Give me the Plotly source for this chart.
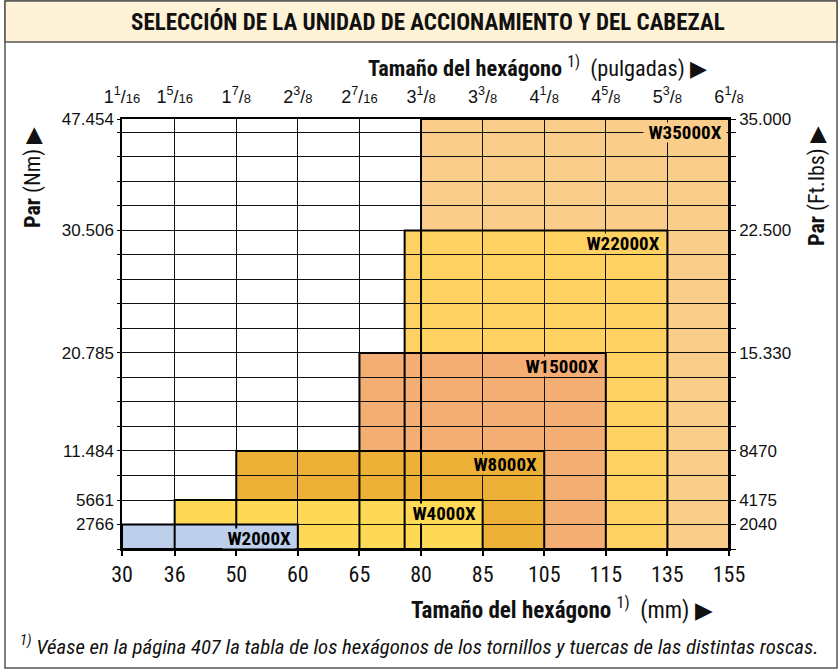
import numpy as np
import plotly.graph_objects as go

# ---- data -------------------------------------------------------------
# hexagon sizes along the bottom axis (mm) and the matching inch sizes on top
hex_mm = [30, 36, 50, 60, 65, 80, 85, 105, 115, 135, 155]
hex_in = [
    ("1", "1", "16"), ("1", "5", "16"), ("1", "7", "8"), ("2", "3", "8"),
    ("2", "7", "16"), ("3", "1", "8"), ("3", "3", "8"), ("4", "1", "8"),
    ("4", "5", "8"), ("5", "3", "8"), ("6", "1", "8"),
]

# drive units: hexagon range (mm) and maximum torque
models = ["W2000X", "W4000X", "W8000X", "W15000X", "W22000X", "W35000X"]
hex_min_mm = [30, 36, 50, 65, 76, 80]
hex_max_mm = [60, 85, 105, 115, 135, 155]
torque_nm = [2766, 5661, 11484, 20785, 30506, 47454]
torque_ftlbs = [2040, 4175, 8470, 15330, 22500, 35000]
torque_nm_text = ["2766", "5661", "11.484", "20.785", "30.506", "47.454"]
torque_ftlbs_text = ["2040", "4175", "8470", "15.330", "22.500", "35.000"]

# ---- schematic scales ---------------------------------------------------
# column widths of the hexagon grid (first column is slightly narrower)
col_width = [0.855] + [1.0] * (len(hex_mm) - 2)
col_pos = np.concatenate([[0.0], np.cumsum(col_width)])
# grid row on which each torque level sits
torque_rows = [1, 2, 4, 8, 13, 17.55]
n_rows = 17
y_top = torque_rows[-1]


def xpos(mm):
    return float(np.interp(mm, hex_mm, col_pos))


def ypos(nm):
    return float(np.interp(nm, [0] + torque_nm, [0] + torque_rows))


colors = ["#bdcfeb", "#fed956", "#eeb138", "#f4ad72", "#fdd162", "#fbcd8a"]

NARROW = "Liberation Sans Narrow, Arial Narrow, Roboto Condensed, sans-serif"
REG = "Liberation Sans, Arial, sans-serif"

# ---- page geometry (pixels) ----------------------------------------------
W, H = 840, 671
L, R, T, B = 122, 111, 119, 122
PW, PH = W - L - R, H - T - B


def px_x(px):
    return (px - L) / PW


def px_y(py):
    return (H - B - py) / PH


fig = go.Figure()
shapes = []

# filled areas (largest unit first, smaller ones on top), below the grid
order = list(range(len(models)))[::-1]
for i in order:
    shapes.append(dict(
        type="rect", xref="x", yref="y", layer="below",
        x0=xpos(hex_min_mm[i]), x1=xpos(hex_max_mm[i]),
        y0=0, y1=ypos(torque_nm[i]),
        fillcolor=colors[i], line=dict(width=0),
    ))

# outlines of every unit's area
for i in order:
    x0, x1 = xpos(hex_min_mm[i]), xpos(hex_max_mm[i])
    y1 = ypos(torque_nm[i])
    fig.add_trace(go.Scatter(
        x=[x0, x0, x1, x1, x0], y=[0, y1, y1, 0, 0],
        mode="lines", line=dict(color="#000000", width=2),
        name=models[i], hoverinfo="name", showlegend=False,
    ))

# unit labels in the upper-right corner of each area
for i in range(len(models)):
    fig.add_annotation(
        x=xpos(hex_max_mm[i]), y=ypos(torque_nm[i]), xref="x", yref="y",
        text="\u00a0" + models[i] + "\u00a0", showarrow=False,
        xanchor="right", yanchor="top", xshift=-2, yshift=-3,
        height=19, borderpad=0, bgcolor=colors[i],
        font=dict(family=NARROW, size=19, color="#000000", weight="bold"),
    )

# frame and header band
shapes.append(dict(type="rect", xref="paper", yref="paper", layer="below",
                   x0=px_x(5), x1=px_x(837), y0=px_y(668), y1=px_y(1),
                   line=dict(color="#555555", width=1.5), fillcolor="rgba(0,0,0,0)"))
shapes.append(dict(type="rect", xref="paper", yref="paper", layer="below",
                   x0=px_x(5), x1=px_x(837), y0=px_y(42), y1=px_y(1),
                   line=dict(color="#555555", width=1.5), fillcolor="#fef2d7"))

# ---- axes ---------------------------------------------------------------
# labelled rows carry the torque values, the other rows are minor grid rows
row_minor = [r for r in range(0, n_rows + 1) if r not in torque_rows]

inch_text = [
    f"{w}<sup>{n}</sup>/<span style='font-size:13px'>{d}</span>"
    for w, n, d in hex_in
]

fig.add_trace(go.Scatter(x=[None], y=[None], xaxis="x2", yaxis="y2",
                         showlegend=False, hoverinfo="skip"))

grid_col = "#111111"
fig.update_layout(
    width=W, height=H,
    margin=dict(l=L, r=R, t=T, b=B, pad=0),
    paper_bgcolor="#ffffff", plot_bgcolor="#ffffff",
    showlegend=False,
    shapes=shapes,
    xaxis=dict(
        range=[0, col_pos[-1]], tickmode="array", tickvals=list(col_pos),
        ticktext=[str(v) for v in hex_mm], ticks="outside", ticklen=5,
        tickcolor="#000000", tickwidth=1.5,
        showgrid=True, gridcolor=grid_col, gridwidth=1, zeroline=False,
        showline=True, linecolor="#000000", linewidth=1.5,
        tickfont=dict(family=NARROW, size=22, color="#111111"),
        fixedrange=True,
    ),
    xaxis2=dict(
        overlaying="x", side="top", range=[0, col_pos[-1]],
        tickmode="array", tickvals=list(col_pos), ticktext=inch_text,
        ticks="", showgrid=False, zeroline=False, ticklabelstandoff=7,
        showline=True, linecolor="#000000", linewidth=1.5,
        tickfont=dict(family=REG, size=18, color="#111111"),
        fixedrange=True,
    ),
    yaxis=dict(
        range=[0, y_top], tickmode="array", tickvals=torque_rows,
        ticktext=torque_nm_text,
        ticks="outside", ticklen=3, tickcolor="#000000",
        showgrid=True, gridcolor=grid_col, gridwidth=1, zeroline=False,
        minor=dict(tickmode="array", tickvals=row_minor, ticks="outside",
                   ticklen=3, tickcolor="#000000", showgrid=True,
                   gridcolor=grid_col, gridwidth=1),
        showline=True, linecolor="#000000", linewidth=1.5,
        tickfont=dict(family=REG, size=17, color="#111111"),
        fixedrange=True,
    ),
    yaxis2=dict(
        overlaying="y", side="right", range=[0, y_top],
        tickmode="array", tickvals=torque_rows, ticktext=torque_ftlbs_text,
        ticks="outside", ticklen=5, tickcolor="#000000",
        minor=dict(tickmode="array", tickvals=row_minor, ticks="outside",
                   ticklen=5, tickcolor="#000000", showgrid=False),
        showgrid=False, zeroline=False,
        showline=True, linecolor="#000000", linewidth=1.5,
        tickfont=dict(family=REG, size=17, color="#111111"),
        fixedrange=True,
    ),
)

# ---- titles and notes ---------------------------------------------------
fig.add_annotation(
    xref="paper", yref="paper", x=px_x(428), y=px_y(21.5),
    text="<b>SELECCIÓN DE LA UNIDAD DE ACCIONAMIENTO Y DEL CABEZAL</b>",
    showarrow=False, xanchor="center", yanchor="middle",
    font=dict(family=NARROW, size=23, color="#111111"),
)
fig.add_annotation(
    xref="paper", yref="paper", x=px_x(709), y=px_y(68),
    text="<b>Tamaño del hexágono</b> <sup>1)</sup>  (pulgadas) ▶",
    showarrow=False, xanchor="right", yanchor="middle",
    font=dict(family=NARROW, size=22.3, color="#111111"),
)
fig.add_annotation(
    xref="paper", yref="paper", x=px_x(715), y=px_y(608),
    text="<b>Tamaño del hexágono</b> <sup>1)</sup>  (mm) ▶",
    showarrow=False, xanchor="right", yanchor="middle",
    font=dict(family=NARROW, size=23, color="#111111"),
)
fig.add_annotation(
    xref="paper", yref="paper", x=px_x(18), y=px_y(645),
    text="<i><sup>1)</sup> Véase en la página 407 la tabla de los hexágonos de los "
         "tornillos y tuercas de las distintas roscas.</i>",
    showarrow=False, xanchor="left", yanchor="middle",
    font=dict(family=NARROW, size=20.8, color="#111111"),
)
fig.add_annotation(
    xref="paper", yref="paper", x=px_x(33), y=px_y(178),
    text="<b>Par</b> (Nm) ▶", textangle=-90,
    showarrow=False, xanchor="center", yanchor="middle",
    font=dict(family=NARROW, size=22, color="#111111"),
)
fig.add_annotation(
    xref="paper", yref="paper", x=px_x(817), y=px_y(186),
    text="<b>Par</b> (Ft.lbs) ▶", textangle=-90,
    showarrow=False, xanchor="center", yanchor="middle",
    font=dict(family=NARROW, size=22, color="#111111"),
)

fig.write_html("out.html")
